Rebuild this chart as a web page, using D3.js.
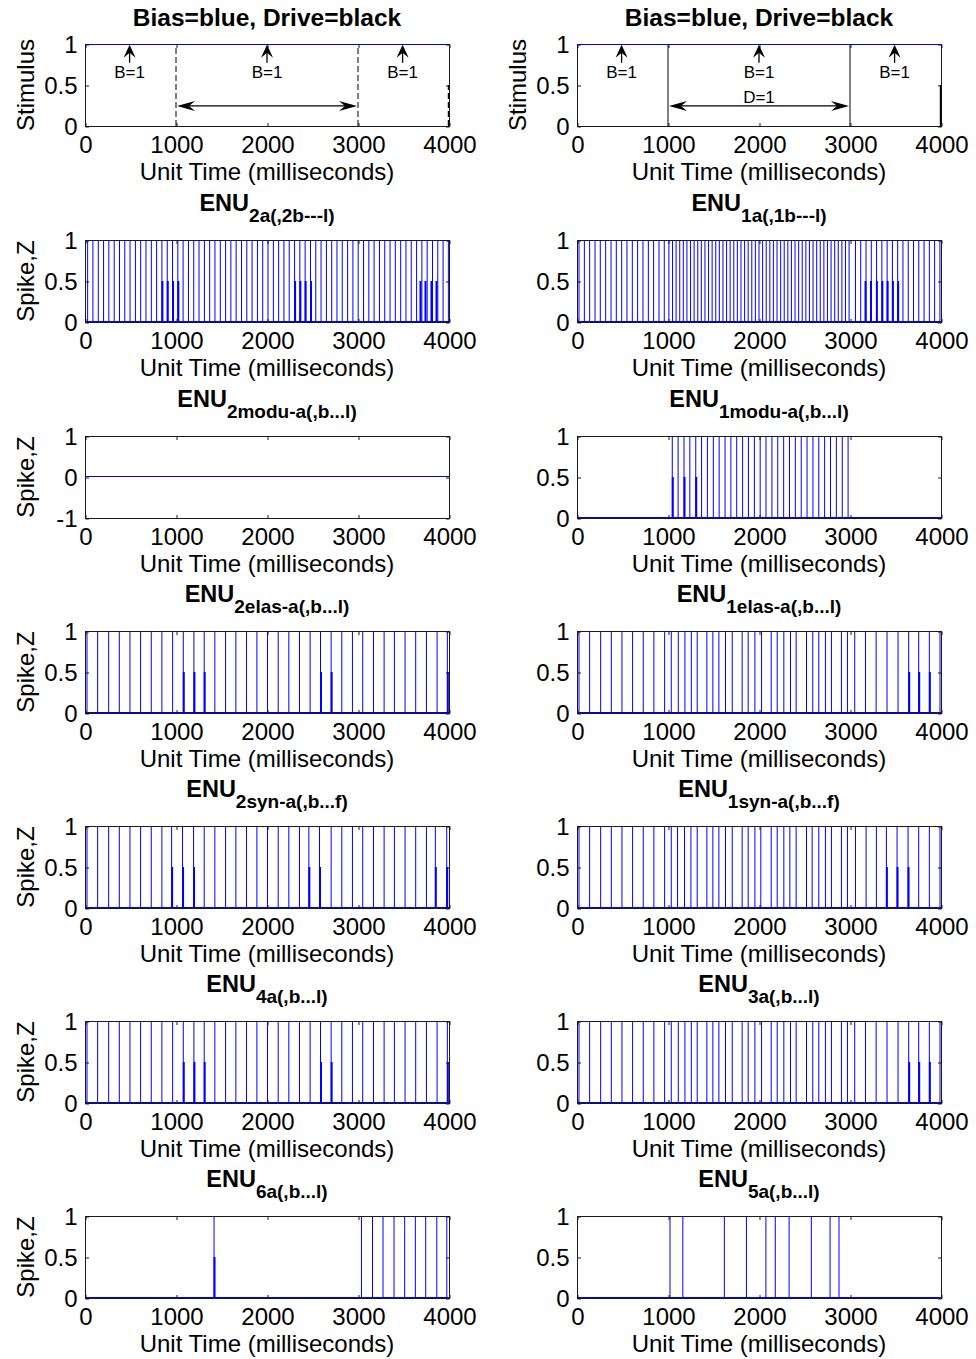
<!DOCTYPE html>
<html><head><meta charset="utf-8">
<script src="https://cdn.jsdelivr.net/npm/d3@7"></script>
<style>
body{margin:0;background:#fff}
text{font-family:"Liberation Sans",Arial,sans-serif;fill:#000}
</style>
</head><body>
<svg id="chart" width="976" height="1359"></svg>
<script>
// ---------- data ----------
const xTickValues = [0, 1000, 2000, 3000, 4000];
const spikeYTicks = [0, 0.5, 1];
const flatYTicks = [-1, 0, 1];

const biasLevel = 1;
const driveOn = 1000, driveOff = 3000;
const driveTail = [[3995, 0], [3995, 0.5]];
const bLabelTimes = [490, 2000, 3490];
const bLabelText = "B=1";
const driveLabel = "D=1";
const driveArrowLevel = 0.245;

const enu2aFull = [29,87,146,204,262,321,379,437,495,554,612,670,729,787,845,904,962,1020,1078,1137,1195,1253,1312,1370,1428,1487,1545,1603,1661,1720,1778,1836,1895,1953,2011,2070,2128,2186,2244,2303,2361,2419,2478,2536,2594,2653,2711,2769,2827,2886,2944,3002,3061,3119,3177,3236,3294,3352,3410,3469,3527,3585,3644,3702,3760,3819,3877,3935,3993];
const enu2aHalf = [845,904,962,1020,2303,2361,2419,2478,3681,3736,3802,3857];

const enu1aFull = [22,81,139,198,256,315,374,432,491,549,608,666,725,784,842,901,959,
 1010,1050,1089,1129,1168,1208,1248,1287,1327,1366,1406,1446,1485,1525,1564,1604,1644,1683,1723,1762,1802,1842,1881,1921,1960,2000,2040,2079,2119,2158,2198,2238,2277,2317,2356,2396,2436,2475,2515,2554,2594,2634,2673,2713,2752,2792,2832,2871,2911,2950,2990,
 3060,3118,3176,3234,3292,3350,3408,3466,3524,3582,3640,3698,3756,3814,3872,3930,3988];
const enu1aHalf = [3165,3225,3290,3350,3408,3466,3524];

const enu2moduFull = [];
const enu2moduHalf = [];

const enu1moduFull = [1047,1111,1176,1240,1305,1369,1433,1498,1562,1627,1691,1755,1820,1884,1949,2013,2077,2142,2206,2271,2335,2399,2464,2528,2593,2657,2721,2786,2850,2915,2979];
const enu1moduHalf = [1047,1176,1305];

const enu2elasFull = [22,139,260,377,494,611,728,845,963,1080,1197,1310,1427,1545,1658,1775,1889,2006,2123,2240,2357,2474,2588,2705,2822,2939,3052,3170,3287,3400,3517,3634,3752,3869,3982];
const enu2elasHalf = [1080,1197,1310,2588,2705,3982];

const enu1elasFull = [22,139,260,377,494,611,728,845,963,1036,1113,1186,1256,1321,1427,1493,1559,1632,1706,1815,1881,1955,2028,2134,2200,2273,2346,2408,2522,2591,2657,2730,2796,2906,2972,3052,3170,3287,3407,3528,3645,3755,3872,3989];
const enu1elasHalf = [3645,3755,3872];

const enu2synFull = [22,139,260,377,494,611,728,845,952,1072,1193,1310,1427,1545,1658,1775,1889,2006,2123,2240,2357,2460,2577,2705,2822,2939,3052,3170,3287,3400,3517,3634,3752,3850,3975];
const enu2synHalf = [952,1072,1193,2460,2577,3850,3975];

const enu1synFull = [22,139,260,377,494,611,728,845,963,1036,1105,1182,1252,1321,1427,1493,1559,1632,1706,1815,1881,1955,2020,2134,2200,2273,2339,2408,2522,2584,2657,2730,2796,2906,2972,3060,3177,3290,3400,3517,3638,3755,3872,3989];
const enu1synHalf = [3400,3517,3638];

const enu4aFull = [22,139,260,377,494,611,728,845,963,1080,1197,1310,1427,1545,1658,1775,1889,2006,2123,2240,2357,2474,2588,2705,2822,2939,3052,3170,3287,3400,3517,3634,3752,3869,3982];
const enu4aHalf = [1080,1197,1310,2588,2705,3982];

const enu3aFull = [22,139,260,377,494,611,728,845,963,1036,1113,1186,1256,1321,1427,1493,1559,1632,1706,1815,1881,1955,2028,2134,2200,2273,2346,2408,2522,2591,2657,2730,2796,2906,2972,3052,3170,3287,3407,3528,3645,3755,3872,3989];
const enu3aHalf = [3645,3755,3872];

const enu6aFull = [1418,3038,3159,3275,3396,3513,3630,3744,3866,3976];
const enu6aHalf = [1418];

const enu5aFull = [1022,1163,1619,1862,2076,2179,2331,2575,2781,2879];
const enu5aHalf = [];

const stimTitle = "Bias=blue, Drive=black";
const xLabel = "Unit Time (milliseconds)";
const titleMain = "ENU";
const leftSubs  = ["2a(,2b---l)","2modu-a(,b...l)","2elas-a(,b...l)","2syn-a(,b...f)","4a(,b...l)","6a(,b...l)"];
const rightSubs = ["1a(,1b---l)","1modu-a(,b...l)","1elas-a(,b...l)","1syn-a(,b...f)","3a(,b...l)","5a(,b...l)"];
const leftFull  = [enu2aFull, enu2moduFull, enu2elasFull, enu2synFull, enu4aFull, enu6aFull];
const leftHalf  = [enu2aHalf, enu2moduHalf, enu2elasHalf, enu2synHalf, enu4aHalf, enu6aHalf];
const rightFull = [enu1aFull, enu1moduFull, enu1elasFull, enu1synFull, enu3aFull, enu5aFull];
const rightHalf = [enu1aHalf, enu1moduHalf, enu1elasHalf, enu1synHalf, enu3aHalf, enu5aHalf];

// ---------- layout ----------
const colX = [85, 577];
const plotW = 364, plotH = 82;
const rowTop = [44, 240, 436, 631, 826, 1021, 1216];
const BLUE = "#0000ff", FRAME = "#1a1a1a";
const FS = 24;

const svg = d3.select("#chart");
svg.append("rect").attr("width",976).attr("height",1359).attr("fill","#fff");

function makePanel(col, row, opts){
  const x0 = colX[col], y0 = rowTop[row];
  const x = d3.scaleLinear().domain([0,4000]).range([x0, x0+plotW]);
  const y = d3.scaleLinear().domain(opts.yDomain).range([y0+plotH, y0]);
  const g = svg.append("g");
  return {x, y, g, x0, y0};
}

function drawAxes(p, yTicks, opts){
  const {x, y, g, x0, y0} = p;
  g.append("rect").attr("x",x0+0.5).attr("y",y0+0.5).attr("width",plotW).attr("height",plotH)
    .attr("fill","none").attr("stroke",FRAME).attr("stroke-width",1);
  const fmt = d => String(d);
  const bx = g.append("g").attr("transform",`translate(0.5,${y0+plotH+0.5})`)
    .call(d3.axisBottom(x).tickValues(xTickValues).tickSizeInner(-3.5).tickSizeOuter(0).tickPadding(7).tickFormat(fmt));
  const tx = g.append("g").attr("transform",`translate(0.5,${y0+0.5})`)
    .call(d3.axisTop(x).tickValues(xTickValues).tickSizeInner(-3.5).tickSizeOuter(0).tickFormat(""));
  const ly = g.append("g").attr("transform",`translate(${x0+0.5},0.5)`)
    .call(d3.axisLeft(y).tickValues(yTicks).tickSizeInner(-3.5).tickSizeOuter(0).tickPadding(8).tickFormat(fmt));
  const ry = g.append("g").attr("transform",`translate(${x0+plotW+0.5},0.5)`)
    .call(d3.axisRight(y).tickValues(yTicks).tickSizeInner(-3.5).tickSizeOuter(0).tickFormat(""));
  [bx,tx,ly,ry].forEach(a=>{
    a.select(".domain").remove();
    a.selectAll("line").attr("stroke",FRAME);
    a.selectAll("text").style("font-size",FS+"px").attr("fill","#000").style("font-family",'"Liberation Sans",Arial,sans-serif');
  });
  bx.selectAll("text").attr("dy","0.8em");
  g.append("text").attr("x",x0+plotW/2).attr("y",y0+plotH+54).attr("text-anchor","middle")
    .style("font-size",FS+"px").text(xLabel);
  if (opts.yLabel){
    g.append("text").attr("transform",`translate(${x0-51},${y0+plotH/2}) rotate(-90)`)
      .attr("text-anchor","middle").style("font-size",FS+"px").text(opts.yLabel);
  }
}

function arrowHead(g, tipX, tipY, dirX, dirY, len, halfW, notch){
  // dir: unit vector pointing toward tip
  const bx = tipX - dirX*len, by = tipY - dirY*len;
  const px = -dirY, py = dirX;
  const nx = tipX - dirX*(len-notch), ny = tipY - dirY*(len-notch);
  g.append("path").attr("d",
    `M${tipX},${tipY} L${bx+px*halfW},${by+py*halfW} L${nx},${ny} L${bx-px*halfW},${by-py*halfW} Z`)
    .attr("fill","#000");
}

// ---------- stimulus row ----------
[0,1].forEach(col=>{
  const p = makePanel(col, 0, {yDomain:[0,1]});
  const {x,y,g,x0,y0} = p;
  g.append("text").attr("x",x0+plotW/2).attr("y",y0-18).attr("text-anchor","middle")
    .style("font-size","24.5px").style("font-weight","bold").text(stimTitle);
  drawAxes(p, spikeYTicks, {yLabel:"Stimulus"});
  const dash = col===0 ? "6,3" : null;
  [driveOn, driveOff].forEach(t=>{
    g.append("line").attr("x1",x(t)).attr("x2",x(t)).attr("y1",y(0)).attr("y2",y(1))
      .attr("stroke","#000").attr("stroke-width",1).attr("stroke-dasharray",dash);
  });
  g.append("line").attr("x1",x(driveTail[0][0])).attr("x2",x(driveTail[1][0]))
    .attr("y1",y(driveTail[0][1])).attr("y2",y(driveTail[1][1]))
    .attr("stroke","#000").attr("stroke-width",1.5).attr("stroke-dasharray",dash);
  g.append("line").attr("x1",x(0)).attr("x2",x(4000)).attr("y1",y(biasLevel)+0.5).attr("y2",y(biasLevel)+0.5)
    .attr("stroke",BLUE).attr("stroke-width",1.2);
  bLabelTimes.forEach(t=>{
    const xx = x(t);
    g.append("line").attr("x1",xx).attr("x2",xx).attr("y1",y(0.77)).attr("y2",y(0.9))
      .attr("stroke","#000").attr("stroke-width",1.3);
    arrowHead(g, xx, y(0.99), 0, -1, 13, 6, 5);
    g.append("text").attr("x",xx).attr("y",y(0.585)).attr("text-anchor","middle")
      .style("font-size","17px").text(bLabelText);
  });
  const ay = y(driveArrowLevel);
  const xa = x(driveOn)+1, xb = x(driveOff)-1;
  g.append("line").attr("x1",xa+10).attr("x2",xb-10).attr("y1",ay).attr("y2",ay)
    .attr("stroke","#000").attr("stroke-width",1.3);
  arrowHead(g, xa, ay, -1, 0, 18, 5, 6);
  arrowHead(g, xb, ay, 1, 0, 18, 5, 6);
  if (col===1){
    g.append("text").attr("x",x(2000)).attr("y",y(0.28)).attr("text-anchor","middle")
      .style("font-size","17px").text(driveLabel);
  }
});

// ---------- spike rows ----------
for (let r=0; r<6; r++){
  [0,1].forEach(col=>{
    const isFlat = (col===0 && r===1);
    const p = makePanel(col, r+1, {yDomain: isFlat ? [-1,1] : [0,1]});
    const {x,y,g,x0,y0} = p;
    const t = g.append("text").attr("x",x0+plotW/2).attr("y",y0-29).attr("text-anchor","middle")
      .style("font-weight","bold");
    t.append("tspan").style("font-size","23.5px").text(titleMain);
    t.append("tspan").attr("dy",11).style("font-size","19px").text(col===0?leftSubs[r]:rightSubs[r]);
    g.append("line").attr("x1",x(0)).attr("x2",x(4000)).attr("y1",y(0)-0.5).attr("y2",y(0)-0.5)
      .attr("stroke",BLUE).attr("stroke-width",1.2);
    const full = col===0 ? leftFull[r] : rightFull[r];
    const half = col===0 ? leftHalf[r] : rightHalf[r];
    g.selectAll("line.full").data(full).enter().append("line").attr("class","full")
      .attr("x1",d=>x(d)).attr("x2",d=>x(d)).attr("y1",y(0)).attr("y2",y(1))
      .attr("stroke",BLUE).attr("stroke-width",1);
    g.selectAll("line.half").data(half).enter().append("line").attr("class","half")
      .attr("x1",d=>x(d)+0.5).attr("x2",d=>x(d)+0.5).attr("y1",y(0)).attr("y2",y(0.5))
      .attr("stroke",BLUE).attr("stroke-width",2);
    drawAxes(p, isFlat ? flatYTicks : spikeYTicks, {yLabel: col===0 ? "Spike,Z" : null});
  });
}
</script>
</body></html>
